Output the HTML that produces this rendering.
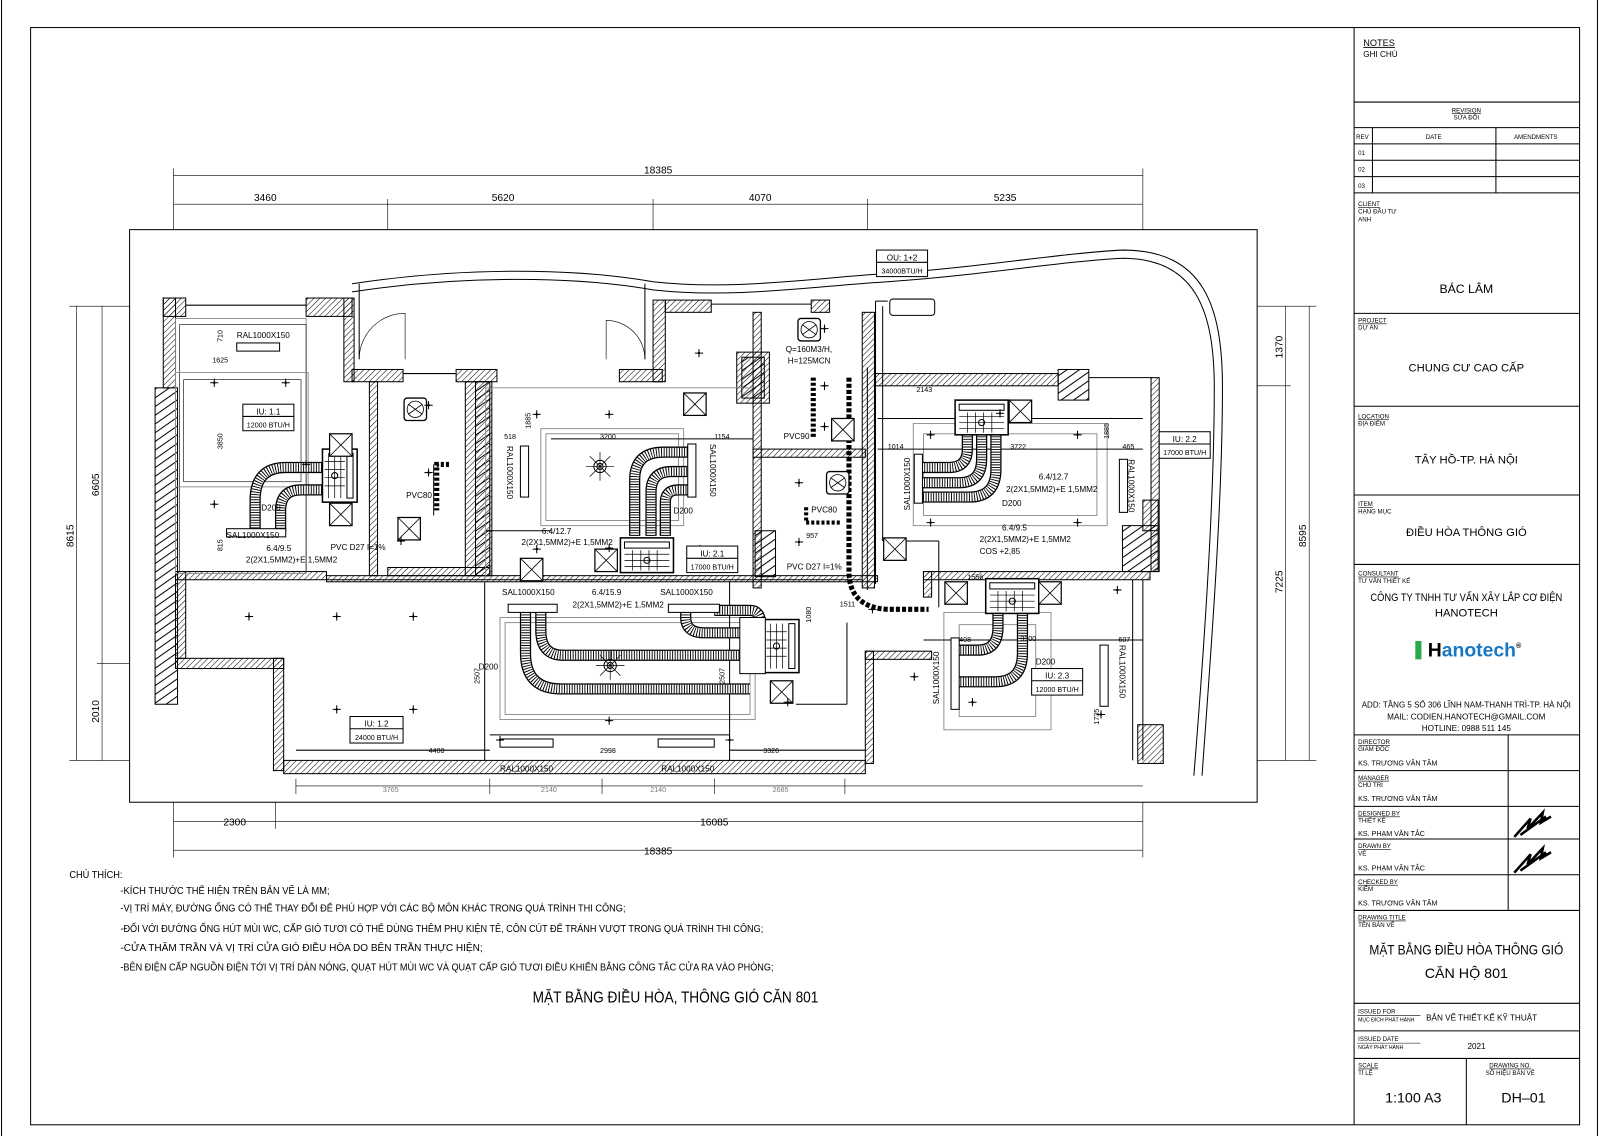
<!DOCTYPE html>
<html><head><meta charset="utf-8"><style>
html,body{margin:0;padding:0;background:#fff;}
svg{display:block;}
text{font-family:"Liberation Sans","DejaVu Sans",sans-serif;fill:#000;}
.d{font-size:10px;}
.s{font-size:7px;fill:#777;}
.t{font-size:6px;}
</style></head><body>
<svg width="1600" height="1136" viewBox="0 0 1568 1113" preserveAspectRatio="none" xmlns="http://www.w3.org/2000/svg">
<defs>
<pattern id="h" width="4" height="4" patternUnits="userSpaceOnUse" patternTransform="rotate(45)">
<line x1="0" y1="0" x2="0" y2="4" stroke="#000" stroke-width="1"/></pattern>
<pattern id="h2" width="7" height="7" patternUnits="userSpaceOnUse" patternTransform="rotate(55)">
<line x1="0" y1="0" x2="0" y2="7" stroke="#000" stroke-width="2"/></pattern>
<g id="xb"><rect x="0" y="0" width="22" height="22" fill="#fff" stroke="#000" stroke-width="1.2"/><path d="M0 0L22 22M22 0L0 22" stroke="#000" stroke-width="0.8"/></g>
<g id="pl"><path d="M-4 0H4M0 -4V4" stroke="#000" stroke-width="1"/><circle r="1.2"/></g>
<g id="un"><rect x="0" y="0" width="52" height="34" fill="#fff" stroke="#000" stroke-width="1.5"/><rect x="4" y="4" width="44" height="6" fill="none" stroke="#000"/><path d="M4 16H48M4 22H48M4 28H48M12 12V32M20 12V32M28 12V32M36 12V32" stroke="#000" stroke-width="0.7"/><circle cx="26" cy="22" r="3" fill="none" stroke="#000"/></g>
<g id="fan"><rect x="0" y="0" width="22" height="22" rx="3" fill="#fff" stroke="#000" stroke-width="1.3"/><circle cx="11" cy="11" r="8" fill="none" stroke="#000" stroke-width="0.8"/><path d="M4 6L18 16M4 16L18 6" stroke="#000" stroke-width="0.8"/></g>
<g id="spk"><circle r="6" fill="none" stroke="#000"/><circle r="3" fill="none" stroke="#000"/><path d="M-14 0H14M0 -14V14M-10 -10L10 10M-10 10L10 -10" stroke="#000" stroke-width="0.7"/></g>
</defs>
<style>
.duct{fill:none;stroke:#000;stroke-width:11;}
.duct2{fill:none;stroke:#fff;stroke-width:8.5;}
.duct3{fill:none;stroke:#000;stroke-width:8.5;stroke-dasharray:0.9 1.6;}
.ln{stroke:#000;fill:none;stroke-width:1;}
.th{stroke:#000;fill:none;stroke-width:0.6;}
.gr{stroke:#888;fill:none;stroke-width:0.9;}
.w{fill:url(#h);stroke:#000;stroke-width:1;}
.w2{fill:url(#h2);stroke:#000;stroke-width:1;}
</style>
<rect x="0" y="0" width="1568" height="1113" fill="#fff"/>
<rect x="1.5" y="-2" width="1564" height="1120" class="ln"/>
<rect x="30" y="27" width="1518" height="1075" class="ln" stroke-width="1.3"/>
<line x1="1327" y1="27" x2="1327" y2="1102" class="ln" stroke-width="1.3"/>

<rect x="127" y="225" width="1105" height="561" class="ln"/>

<g class="th">
<line x1="170" y1="172" x2="1120" y2="172"/><line x1="170" y1="200" x2="1120" y2="200"/>
<line x1="170" y1="165" x2="170" y2="225"/><line x1="1120" y1="165" x2="1120" y2="225"/>
<line x1="380" y1="195" x2="380" y2="225"/><line x1="640" y1="195" x2="640" y2="225"/><line x1="850" y1="195" x2="850" y2="225"/>
<line x1="170" y1="805" x2="1120" y2="805"/><line x1="170" y1="833" x2="1120" y2="833"/>
<line x1="170" y1="786" x2="170" y2="840"/><line x1="1120" y1="786" x2="1120" y2="840"/><line x1="270" y1="786" x2="270" y2="812"/>
<line x1="75" y1="300" x2="75" y2="745"/><line x1="100" y1="300" x2="100" y2="745"/>
<line x1="68" y1="300" x2="127" y2="300"/><line x1="68" y1="745" x2="127" y2="745"/><line x1="95" y1="650" x2="127" y2="650"/>
<line x1="1260" y1="300" x2="1260" y2="745"/><line x1="1283" y1="300" x2="1283" y2="745"/>
<line x1="1232" y1="300" x2="1290" y2="300"/><line x1="1232" y1="745" x2="1290" y2="745"/><line x1="1232" y1="378" x2="1265" y2="378"/>
<line x1="290" y1="770" x2="1120" y2="770"/>
<line x1="290" y1="763" x2="290" y2="778"/><line x1="480" y1="763" x2="480" y2="778"/><line x1="590" y1="763" x2="590" y2="778"/><line x1="700" y1="763" x2="700" y2="778"/><line x1="828" y1="763" x2="828" y2="778"/>
</g>
<text class="d" x="645" y="170" text-anchor="middle">18385</text>
<text class="d" x="260" y="197" text-anchor="middle">3460</text>
<text class="d" x="493" y="197" text-anchor="middle">5620</text>
<text class="d" x="745" y="197" text-anchor="middle">4070</text>
<text class="d" x="985" y="197" text-anchor="middle">5235</text>
<text class="d" x="230" y="809" text-anchor="middle">2300</text>
<text class="d" x="700" y="809" text-anchor="middle">16085</text>
<text class="d" x="645" y="837" text-anchor="middle">18385</text>
<text class="d" transform="translate(72,525) rotate(-90)" text-anchor="middle">8615</text>
<text class="d" transform="translate(97,475) rotate(-90)" text-anchor="middle">6605</text>
<text class="d" transform="translate(97,697) rotate(-90)" text-anchor="middle">2010</text>
<text class="d" transform="translate(1257,340) rotate(-90)" text-anchor="middle">1370</text>
<text class="d" transform="translate(1257,570) rotate(-90)" text-anchor="middle">7225</text>
<text class="d" transform="translate(1280,525) rotate(-90)" text-anchor="middle">8595</text>
<text class="s" x="383" y="776" text-anchor="middle">3765</text>
<text class="s" x="538" y="776" text-anchor="middle">2140</text>
<text class="s" x="645" y="776" text-anchor="middle">2140</text>
<text class="s" x="765" y="776" text-anchor="middle">2685</text>

<path class="ln" d="M345 278 C450 262 560 262 640 276 C720 285 800 272 870 268 C960 262 1040 248 1100 245 C1180 245 1198 300 1198 380 C1198 500 1185 660 1178 760"/>
<path class="ln" d="M345 286 C450 270 560 270 640 284 C720 293 800 280 870 276 C960 270 1040 256 1100 253 C1172 253 1190 305 1190 380 C1190 500 1178 660 1170 760"/>
<path class="ln" d="M352 278 V352 M632 278 V352"/>
<path class="th" d="M352 352 A45 45 0 0 1 397 307 V352 M632 352 A38 38 0 0 0 594 314 V352"/>

<rect class="w" x="160" y="292" width="22" height="18"/>
<rect class="w" x="300" y="292" width="45" height="18"/>
<line class="ln" x1="182" y1="299" x2="300" y2="299" stroke-width="2"/>
<rect class="w" x="160" y="292" width="12" height="88"/>
<rect class="w2" x="152" y="380" width="22" height="310"/>
<rect class="w" x="337" y="292" width="10" height="82"/>
<rect class="w" x="345" y="362" width="50" height="12"/>
<rect class="w" x="447" y="362" width="40" height="12"/>
<line class="ln" x1="395" y1="366" x2="447" y2="366" stroke-width="2"/>
<rect class="w" x="607" y="362" width="42" height="12"/>
<rect class="w" x="640" y="294" width="12" height="80"/>
<rect class="w" x="652" y="294" width="45" height="12"/>
<rect class="w" x="795" y="294" width="18" height="12"/>
<line class="ln" x1="697" y1="298" x2="795" y2="298" stroke-width="2"/>
<rect class="w" x="172" y="560" width="148" height="8"/>
<rect class="w" x="172" y="560" width="10" height="85"/>
<rect class="w" x="172" y="645" width="106" height="10"/>
<rect class="w" x="268" y="645" width="10" height="110"/>
<rect class="w" x="278" y="745" width="570" height="13"/>
<rect class="w" x="362" y="374" width="8" height="190"/>
<rect class="w" x="456" y="374" width="26" height="190"/>
<rect class="w2" x="466" y="374" width="14" height="190"/>
<rect class="w" x="380" y="556" width="100" height="8"/>
<rect class="w" x="738" y="306" width="8" height="270"/>
<rect class="w" x="845" y="306" width="12" height="270"/>
<rect class="w" x="738" y="440" width="110" height="8"/>
<rect class="w" x="722" y="345" width="32" height="50"/>
<rect class="w2" x="727" y="350" width="22" height="40"/>
<rect class="w2" x="740" y="520" width="20" height="45"/>
<rect class="w" x="857" y="366" width="180" height="12"/>
<rect class="w2" x="1037" y="362" width="30" height="30"/>
<line class="ln" x1="1067" y1="370" x2="1128" y2="370" stroke-width="2"/>
<rect class="w" x="1128" y="370" width="8" height="190"/>
<rect class="w2" x="1100" y="515" width="35" height="45"/>
<rect class="w" x="1120" y="490" width="15" height="30"/>
<rect class="w" x="905" y="560" width="222" height="8"/>
<rect class="w" x="905" y="560" width="8" height="25"/>
<rect class="w" x="848" y="638" width="65" height="8"/>
<rect class="w" x="848" y="638" width="8" height="110"/>
<line class="ln" x1="1110" y1="568" x2="1110" y2="745"/>
<line class="ln" x1="1120" y1="568" x2="1120" y2="745"/>
<rect class="w" x="1115" y="710" width="25" height="38"/>
<rect class="w" x="320" y="564" width="540" height="6" fill="none"/>

<g class="gr">
<rect x="172" y="312" width="128" height="250"/>
<rect x="176" y="318" width="124" height="242" class="th"/>
<rect x="172" y="365" width="130" height="112"/>
<rect x="180" y="372" width="115" height="100" class="th"/>
<rect x="530" y="420" width="140" height="95"/>
<rect x="535" y="425" width="130" height="85"/>
<rect x="490" y="605" width="250" height="100"/>
<rect x="495" y="610" width="240" height="90"/>
<rect x="895" y="415" width="190" height="100"/>
<rect x="905" y="425" width="170" height="80"/>
<rect x="925" y="600" width="105" height="115"/>
<rect x="940" y="612" width="75" height="90"/>
<line x1="476" y1="380" x2="738" y2="380"/>
<line x1="476" y1="380" x2="476" y2="565"/>
</g>
<g class="ln">
<line x1="475" y1="570" x2="475" y2="745"/>
<line x1="715" y1="570" x2="715" y2="745"/>
<line x1="480" y1="720" x2="715" y2="720"/>
<line x1="290" y1="735" x2="480" y2="735"/>
<line x1="715" y1="735" x2="848" y2="735"/>
<line x1="476" y1="520" x2="540" y2="520"/>
<line x1="540" y1="430" x2="738" y2="430"/>
<line x1="860" y1="410" x2="1120" y2="410"/>
<line x1="860" y1="440" x2="1120" y2="440"/>
<line x1="905" y1="627" x2="1120" y2="627"/>
<line x1="320" y1="568" x2="845" y2="568"/>
<line x1="850" y1="360" x2="850" y2="578"/>
<line x1="858" y1="295" x2="858" y2="572"/>
<line x1="858" y1="295" x2="870" y2="295"/>
<line x1="865" y1="300" x2="865" y2="530"/>
<line x1="865" y1="530" x2="920" y2="530"/>
<line x1="920" y1="530" x2="920" y2="595"/>
<line x1="830" y1="610" x2="830" y2="690"/>
<line x1="780" y1="690" x2="830" y2="690"/>
<line x1="425" y1="455" x2="425" y2="505"/>
</g>

<g id="ducts">
<path class="duct" d="M318 458 H280 Q250 458 250 490 V522"/><path class="duct2" d="M318 458 H280 Q250 458 250 490 V522"/><path class="duct3" d="M318 458 H280 Q250 458 250 490 V522"/>
<path class="duct" d="M318 480 H295 Q275 480 275 500 V522"/><path class="duct2" d="M318 480 H295 Q275 480 275 500 V522"/><path class="duct3" d="M318 480 H295 Q275 480 275 500 V522"/>
<path class="duct" d="M622 525 V470 Q622 443 650 443 H678"/><path class="duct2" d="M622 525 V470 Q622 443 650 443 H678"/><path class="duct3" d="M622 525 V470 Q622 443 650 443 H678"/>
<path class="duct" d="M638 525 V482 Q638 462 658 462 H678"/><path class="duct2" d="M638 525 V482 Q638 462 658 462 H678"/><path class="duct3" d="M638 525 V482 Q638 462 658 462 H678"/>
<path class="duct" d="M652 525 V492 Q652 480 665 480 H678"/><path class="duct2" d="M652 525 V492 Q652 480 665 480 H678"/><path class="duct3" d="M652 525 V492 Q652 480 665 480 H678"/>
<path class="duct" d="M515 597 V640 Q515 675 550 675 H735"/><path class="duct2" d="M515 597 V640 Q515 675 550 675 H735"/><path class="duct3" d="M515 597 V640 Q515 675 550 675 H735"/>
<path class="duct" d="M530 597 V618 Q530 642 552 642 H735"/><path class="duct2" d="M530 597 V618 Q530 642 552 642 H735"/><path class="duct3" d="M530 597 V618 Q530 642 552 642 H735"/>
<path class="duct" d="M672 597 V605 Q672 620 690 620 H735"/><path class="duct2" d="M672 597 V605 Q672 620 690 620 H735"/><path class="duct3" d="M672 597 V605 Q672 620 690 620 H735"/>
<path class="duct" d="M700 598 H735 Q745 598 745 610"/><path class="duct2" d="M700 598 H735 Q745 598 745 610"/><path class="duct3" d="M700 598 H735 Q745 598 745 610"/>
<path class="duct" d="M948 425 V440 Q948 458 930 458 H902"/><path class="duct2" d="M948 425 V440 Q948 458 930 458 H902"/><path class="duct3" d="M948 425 V440 Q948 458 930 458 H902"/>
<path class="duct" d="M962 425 V450 Q962 473 940 473 H902"/><path class="duct2" d="M962 425 V450 Q962 473 940 473 H902"/><path class="duct3" d="M962 425 V450 Q962 473 940 473 H902"/>
<path class="duct" d="M976 425 V460 Q976 487 950 487 H902"/><path class="duct2" d="M976 425 V460 Q976 487 950 487 H902"/><path class="duct3" d="M976 425 V460 Q976 487 950 487 H902"/>
<path class="duct" d="M978 595 V615 Q978 637 958 637 H937"/><path class="duct2" d="M978 595 V615 Q978 637 958 637 H937"/><path class="duct3" d="M978 595 V615 Q978 637 958 637 H937"/>
<path class="duct" d="M1002 595 V640 Q1002 668 975 668 H937"/><path class="duct2" d="M1002 595 V640 Q1002 668 975 668 H937"/><path class="duct3" d="M1002 595 V640 Q1002 668 975 668 H937"/>
<path d="M832 370 V560 Q832 595 870 597 H910" stroke="#000" stroke-width="5" stroke-dasharray="4 2" fill="none"/>
<path d="M797 370 V430" stroke="#000" stroke-width="5" stroke-dasharray="3 2" fill="none"/>
<path d="M440 455 H428 V500" stroke="#000" stroke-width="5" stroke-dasharray="3 2" fill="none"/>
<path d="M790 497 V512 H825" stroke="#000" stroke-width="4" stroke-dasharray="3 2" fill="none"/>
</g>

<g fill="#fff" stroke="#000" stroke-width="1">
<rect x="232" y="336" width="42" height="8"/>
<rect x="222" y="518" width="58" height="8"/>
<rect x="510" y="437" width="8" height="50"/>
<rect x="674" y="435" width="8" height="52"/>
<rect x="498" y="592" width="48" height="8"/>
<rect x="655" y="592" width="50" height="8"/>
<rect x="490" y="724" width="52" height="8"/>
<rect x="645" y="724" width="55" height="8"/>
<rect x="896" y="445" width="8" height="48"/>
<rect x="1097" y="450" width="8" height="52"/>
<rect x="932" y="625" width="8" height="70"/>
<rect x="1078" y="632" width="8" height="60"/>
<rect x="872" y="293" width="44" height="16" rx="3"/>
</g>

<use href="#un" transform="translate(350,440) rotate(90)"/>
<use href="#un" x="608" y="527"/>
<use href="#un" x="936" y="392"/>
<use href="#un" x="966" y="567"/>
<use href="#un" transform="translate(783,607) rotate(90)"/>
<rect x="725" y="605" width="25" height="55" fill="#fff" stroke="#000"/>

<use href="#xb" x="323" y="425"/><use href="#xb" x="323" y="493"/>
<use href="#xb" x="390" y="507"/><use href="#xb" x="670" y="385"/>
<use href="#xb" x="583" y="538"/><use href="#xb" x="510" y="547"/>
<use href="#xb" x="815" y="410"/><use href="#xb" x="866" y="527"/>
<use href="#xb" x="755" y="667"/><use href="#xb" x="989" y="392"/>
<use href="#xb" x="926" y="570"/><use href="#xb" x="1018" y="570"/>
<use href="#fan" x="396" y="390"/><use href="#fan" x="782" y="312"/><use href="#fan" x="810" y="462"/>
<use href="#spk" x="588" y="457"/><use href="#spk" x="598" y="652"/>

<g>
<use href="#pl" x="210" y="375"/><use href="#pl" x="280" y="375"/><use href="#pl" x="300" y="455"/><use href="#pl" x="210" y="494"/>
<use href="#pl" x="244" y="604"/><use href="#pl" x="330" y="604"/><use href="#pl" x="405" y="604"/>
<use href="#pl" x="330" y="695"/><use href="#pl" x="405" y="695"/>
<use href="#pl" x="420" y="397"/><use href="#pl" x="420" y="463"/><use href="#pl" x="393" y="530"/>
<use href="#pl" x="526" y="406"/><use href="#pl" x="597" y="406"/><use href="#pl" x="685" y="346"/>
<use href="#pl" x="526" y="538"/><use href="#pl" x="597" y="537"/><use href="#pl" x="686" y="538"/>
<use href="#pl" x="490" y="725"/><use href="#pl" x="597" y="706"/><use href="#pl" x="715" y="725"/>
<use href="#pl" x="772" y="688"/><use href="#pl" x="808" y="322"/><use href="#pl" x="808" y="378"/><use href="#pl" x="808" y="418"/>
<use href="#pl" x="783" y="473"/><use href="#pl" x="783" y="531"/>
<use href="#pl" x="912" y="426"/><use href="#pl" x="1056" y="426"/><use href="#pl" x="912" y="512"/><use href="#pl" x="1056" y="512"/>
<use href="#pl" x="1095" y="578"/><use href="#pl" x="896" y="663"/><use href="#pl" x="953" y="688"/><use href="#pl" x="1079" y="700"/>
<use href="#pl" x="855" y="597"/><use href="#pl" x="980" y="405"/>
</g>

<g fill="#fff" stroke="#000" stroke-width="1">
<rect x="238" y="396" width="50" height="26"/><line x1="238" y1="408" x2="288" y2="408"/>
<rect x="673" y="535" width="50" height="26"/><line x1="673" y1="547" x2="723" y2="547"/>
<rect x="343" y="702" width="52" height="26"/><line x1="343" y1="714" x2="395" y2="714"/>
<rect x="1136" y="423" width="50" height="26"/><line x1="1136" y1="435" x2="1186" y2="435"/>
<rect x="1011" y="655" width="50" height="26"/><line x1="1011" y1="667" x2="1061" y2="667"/>
<rect x="859" y="245" width="50" height="26"/><line x1="859" y1="257" x2="909" y2="257"/>
</g>
<g font-size="8" text-anchor="middle">
<text x="263" y="406">IU: 1.1</text><text x="263" y="419" font-size="7">12000 BTU/H</text>
<text x="698" y="545">IU: 2.1</text><text x="698" y="558" font-size="7">17000 BTU/H</text>
<text x="369" y="712">IU: 1.2</text><text x="369" y="725" font-size="7">24000 BTU/H</text>
<text x="1161" y="433">IU: 2.2</text><text x="1161" y="446" font-size="7">17000 BTU/H</text>
<text x="1036" y="665">IU: 2.3</text><text x="1036" y="678" font-size="7">12000 BTU/H</text>
<text x="884" y="255">OU: 1+2</text><text x="884" y="268" font-size="7">34000BTU/H</text>
</g>

<g font-size="8">
<text x="232" y="331">RAL1000X150</text>
<text x="222" y="527">SAL1000X150</text>
<text x="261" y="540">6.4/9.5</text>
<text x="241" y="551">2(2X1,5MM2)+E 1,5MM2</text>
<text x="256" y="500">D200</text>
<text x="324" y="539">PVC D27 I=1%</text>
<text x="398" y="488">PVC80</text>
<text x="531" y="523">6.4/12.7</text>
<text x="511" y="534">2(2X1,5MM2)+E 1,5MM2</text>
<text x="660" y="503">D200</text>
<text x="492" y="583">SAL1000X150</text>
<text x="647" y="583">SAL1000X150</text>
<text x="580" y="583">6.4/15.9</text>
<text x="561" y="595">2(2X1,5MM2)+E 1,5MM2</text>
<text x="469" y="656">D200</text>
<text x="490" y="756">RAL1000X150</text>
<text x="648" y="756">RAL1000X150</text>
<text x="770" y="345">Q=160M3/H,</text>
<text x="772" y="356">H=125MCN</text>
<text x="768" y="430">PVC90</text>
<text x="795" y="502">PVC80</text>
<text x="771" y="558">PVC D27 I=1%</text>
<text x="1018" y="470">6.4/12.7</text>
<text x="986" y="482">2(2X1,5MM2)+E 1,5MM2</text>
<text x="982" y="496">D200</text>
<text x="982" y="520">6.4/9.5</text>
<text x="960" y="531">2(2X1,5MM2)+E 1,5MM2</text>
<text x="960" y="543">COS +2,85</text>
<text x="1015" y="651">D200</text>
<text transform="translate(497,437) rotate(90)">RAL1000X150</text>
<text transform="translate(696,435) rotate(90)">SAL1000X150</text>
<text transform="translate(892,500) rotate(-90)">SAL1000X150</text>
<text transform="translate(1106,450) rotate(90)">RAL1000X150</text>
<text transform="translate(920,690) rotate(-90)">SAL1000X150</text>
<text transform="translate(1097,632) rotate(90)">RAL1000X150</text>
</g>
<g class="s">
<text x="208" y="355">1625</text><text x="588" y="430">3200</text><text x="700" y="430">1154</text>
<text x="494" y="430">518</text><text x="870" y="440">1014</text><text x="990" y="440">3722</text><text x="1100" y="440">465</text>
<text x="898" y="384">2143</text><text x="420" y="738">4408</text><text x="588" y="738">2998</text><text x="748" y="738">3326</text>
<text x="823" y="594">1511</text><text x="790" y="527">957</text><text x="940" y="629">408</text><text x="1096" y="629">607</text><text x="1000" y="628">3300</text>
<text x="948" y="568">1556</text>
<text transform="translate(218,335) rotate(-90)">710</text><text transform="translate(218,440) rotate(-90)">3850</text>
<text transform="translate(218,540) rotate(-90)">815</text><text transform="translate(520,420) rotate(-90)">1885</text>
<text transform="translate(470,670) rotate(-90)">2507</text><text transform="translate(710,670) rotate(-90)">2507</text>
<text transform="translate(1087,430) rotate(-90)">1885</text><text transform="translate(1077,710) rotate(-90)">1735</text>
<text transform="translate(795,610) rotate(-90)">1080</text>
</g>

<g font-size="10">
<text x="68" y="860" textLength="52" lengthAdjust="spacingAndGlyphs">CHÚ THÍCH:</text>
<text x="118" y="876" textLength="205" lengthAdjust="spacingAndGlyphs">-KÍCH THƯỚC THỂ HIỆN TRÊN BẢN VẼ LÀ MM;</text>
<text x="118" y="893" textLength="495" lengthAdjust="spacingAndGlyphs">-VỊ TRÍ MÁY, ĐƯỜNG ỐNG CÓ THỂ THAY ĐỔI ĐỂ PHÙ HỢP VỚI CÁC BỘ MÔN KHÁC TRONG QUÁ TRÌNH THI CÔNG;</text>
<text x="118" y="913" textLength="630" lengthAdjust="spacingAndGlyphs">-ĐỐI VỚI ĐƯỜNG ỐNG HÚT MÙI WC, CẤP GIÓ TƯƠI CÓ THỂ DÙNG THÊM PHỤ KIỆN TÊ, CÔN CÚT ĐỂ TRÁNH VƯỢT TRONG QUÁ TRÌNH THI CÔNG;</text>
<text x="118" y="932" textLength="355" lengthAdjust="spacingAndGlyphs">-CỬA THĂM TRẦN VÀ VỊ TRÍ CỬA GIÓ ĐIỀU HÒA DO BÊN TRẦN THỰC HIỆN;</text>
<text x="118" y="951" textLength="640" lengthAdjust="spacingAndGlyphs">-BÊN ĐIỆN CẤP NGUỒN ĐIỆN TỚI VỊ TRÍ DÀN NÓNG, QUẠT HÚT MÙI WC VÀ QUẠT CẤP GIÓ TƯƠI ĐIỀU KHIỂN BẰNG CÔNG TẮC CỬA RA VÀO PHÒNG;</text>
<text x="522" y="982" font-size="15" textLength="280" lengthAdjust="spacingAndGlyphs">MẶT BẰNG ĐIỀU HÒA, THÔNG GIÓ CĂN 801</text>
</g>

<g class="ln">
<line x1="1327" y1="100" x2="1548" y2="100"/><line x1="1327" y1="125" x2="1548" y2="125"/>
<line x1="1327" y1="141" x2="1548" y2="141"/><line x1="1327" y1="157" x2="1548" y2="157"/><line x1="1327" y1="173" x2="1548" y2="173"/>
<line x1="1327" y1="189" x2="1548" y2="189"/><line x1="1345" y1="125" x2="1345" y2="189"/><line x1="1466" y1="125" x2="1466" y2="189"/>
<line x1="1327" y1="307" x2="1548" y2="307"/><line x1="1327" y1="398" x2="1548" y2="398"/>
<line x1="1327" y1="485" x2="1548" y2="485"/><line x1="1327" y1="553" x2="1548" y2="553"/>
<line x1="1327" y1="720" x2="1548" y2="720"/><line x1="1327" y1="755" x2="1548" y2="755"/>
<line x1="1327" y1="790" x2="1548" y2="790"/><line x1="1327" y1="822" x2="1548" y2="822"/>
<line x1="1327" y1="857" x2="1548" y2="857"/><line x1="1327" y1="892" x2="1548" y2="892"/>
<line x1="1478" y1="720" x2="1478" y2="892"/>
<line x1="1327" y1="983" x2="1548" y2="983"/><line x1="1327" y1="1010" x2="1548" y2="1010"/>
<line x1="1327" y1="1037" x2="1548" y2="1037"/><line x1="1437" y1="1037" x2="1437" y2="1102"/>
<line x1="1330" y1="995" x2="1392" y2="995" stroke-width="0.6"/><line x1="1330" y1="1022" x2="1392" y2="1022" stroke-width="0.6"/>
</g>
<g font-size="6">
<text x="1336" y="45" font-size="9" text-decoration="underline">NOTES</text><text x="1336" y="56" font-size="8">GHI CHÚ</text>
<text x="1437" y="110" text-anchor="middle" text-decoration="underline">REVISION</text><text x="1437" y="117" text-anchor="middle">SỬA ĐỔI</text>
<text x="1329" y="136">REV</text><text x="1405" y="136" text-anchor="middle">DATE</text><text x="1505" y="136" text-anchor="middle">AMENDMENTS</text>
<text x="1331" y="152">01</text><text x="1331" y="168">02</text><text x="1331" y="184">03</text>
<text x="1331" y="202" text-decoration="underline">CLIENT</text><text x="1331" y="209">CHỦ ĐẦU TƯ</text><text x="1331" y="217">ANH</text>
<text x="1331" y="316" text-decoration="underline">PROJECT</text><text x="1331" y="323">DỰ ÁN</text>
<text x="1331" y="410" text-decoration="underline">LOCATION</text><text x="1331" y="417">ĐỊA ĐIỂM</text>
<text x="1331" y="496" text-decoration="underline">ITEM</text><text x="1331" y="503">HẠNG MỤC</text>
<text x="1331" y="564" text-decoration="underline">CONSULTANT</text><text x="1331" y="571">TƯ VẤN THIẾT KẾ</text>
<text x="1331" y="729" text-decoration="underline">DIRECTOR</text><text x="1331" y="736">GIÁM ĐỐC</text><text x="1331" y="750" font-size="7">KS. TRƯƠNG VĂN TÂM</text>
<text x="1331" y="764" text-decoration="underline">MANAGER</text><text x="1331" y="771">CHỦ TRÌ</text><text x="1331" y="785" font-size="7">KS. TRƯƠNG VĂN TÂM</text>
<text x="1331" y="799" text-decoration="underline">DESIGNED BY</text><text x="1331" y="806">THIẾT KẾ</text><text x="1331" y="819" font-size="7">KS. PHẠM VĂN TẮC</text>
<text x="1331" y="831" text-decoration="underline">DRAWN BY</text><text x="1331" y="838">VẼ</text><text x="1331" y="853" font-size="7">KS. PHẠM VĂN TẮC</text>
<text x="1331" y="866" text-decoration="underline">CHECKED BY</text><text x="1331" y="873">KIỂM</text><text x="1331" y="887" font-size="7">KS. TRƯƠNG VĂN TÂM</text>
<text x="1331" y="901" text-decoration="underline">DRAWING TITLE</text><text x="1331" y="908">TÊN BẢN VẼ</text>
<text x="1331" y="993">ISSUED FOR</text><text x="1331" y="1001" font-size="5">MỤC ĐÍCH PHÁT HÀNH</text>
<text x="1331" y="1020">ISSUED DATE</text><text x="1331" y="1028" font-size="5">NGÀY PHÁT HÀNH</text>
<text x="1331" y="1046" text-decoration="underline">SCALE</text><text x="1331" y="1053">TỈ LỆ</text>
<text x="1480" y="1046" text-anchor="middle" text-decoration="underline">DRAWING NO.</text><text x="1480" y="1053" text-anchor="middle">SỐ HIỆU BẢN VẼ</text>
</g>
<g text-anchor="middle">
<text x="1437" y="287" font-size="12">BÁC LÂM</text>
<text x="1437" y="364" font-size="11">CHUNG CƯ CAO CẤP</text>
<text x="1437" y="454" font-size="11">TÂY HỒ-TP. HÀ NỘI</text>
<text x="1437" y="525" font-size="11">ĐIỀU HÒA THÔNG GIÓ</text>
<text x="1437" y="589" font-size="11" textLength="188" lengthAdjust="spacingAndGlyphs">CÔNG TY TNHH TƯ VẤN XÂY LẮP CƠ ĐIỆN</text>
<text x="1437" y="604" font-size="11">HANOTECH</text>
<text x="1437" y="693" font-size="8" textLength="205" lengthAdjust="spacingAndGlyphs">ADD: TẦNG 5 SỐ 306 LĨNH NAM-THANH TRÌ-TP. HÀ NỘI</text>
<text x="1437" y="705" font-size="8">MAIL: CODIEN.HANOTECH@GMAIL.COM</text>
<text x="1437" y="716" font-size="8">HOTLINE: 0988 511 145</text>
<text x="1437" y="935" font-size="14" textLength="190" lengthAdjust="spacingAndGlyphs">MẶT BẰNG ĐIỀU HÒA THÔNG GIÓ</text>
<text x="1437" y="958" font-size="14">CĂN HỘ 801</text>
<text x="1452" y="1000" font-size="8">BẢN VẼ THIẾT KẾ KỸ THUẬT</text>
<text x="1447" y="1028" font-size="8">2021</text>
<text x="1385" y="1080" font-size="14">1:100 A3</text>
<text x="1493" y="1080" font-size="14">DH–01</text>
<text x="1445" y="643" font-size="19" font-weight="bold" fill="#1a78c2">H<tspan fill="#1a78c2">anotech</tspan><tspan font-size="7" dy="-8">®</tspan></text>
</g>
<rect x="1387" y="628" width="6" height="18" fill="#2aa84a"/>
<path d="M1484 820 L1500 802 L1497 812 L1512 796 L1510 806 L1520 800 M1490 818 L1515 800" stroke="#000" stroke-width="2.5" fill="none"/>
<path d="M1484 855 L1500 837 L1497 847 L1512 831 L1510 841 L1520 835 M1490 853 L1515 835" stroke="#000" stroke-width="2.5" fill="none"/>
</svg>
</body></html>
